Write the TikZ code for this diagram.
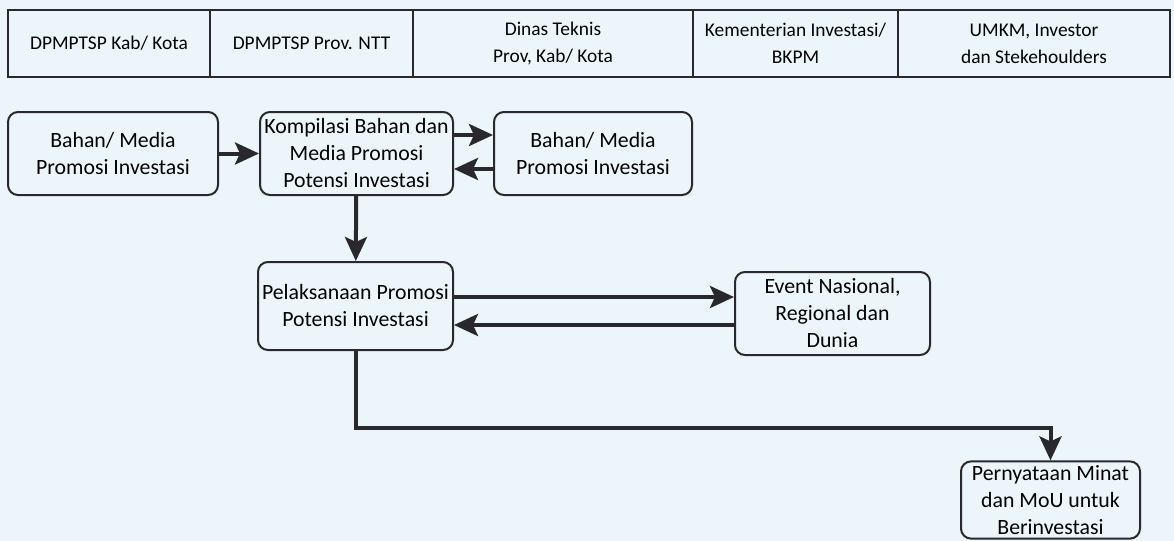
\documentclass[tikz,border=0pt]{standalone}
\usepackage{fontspec}
\setmainfont{Carlito}
\usepackage{xcolor}
\usetikzlibrary{arrows.meta, calc, positioning}
\definecolor{paperblue}{RGB}{236,246,250}
\definecolor{inkgray}{RGB}{40,40,45}

\begin{document}
\begin{tikzpicture}[x=0.5pt, y=-0.5pt, >=Stealth,
    font=\fontsize{10.9}{13.5}\selectfont,
    cell/.style={draw=inkgray, line width=1pt, rectangle, align=center, minimum height=33.5pt, inner sep=0pt, font=\fontsize{9.7}{13.5}\selectfont},
    stepbox/.style={draw=inkgray, line width=1pt, rounded corners=5pt, align=center, inner sep=2pt},
    flow/.style={draw=inkgray, line width=2pt, arrows={-Stealth[length=12pt, width=11pt, inset=2.5pt]}}]
        % Background
        \fill[paperblue] (0,0) rectangle (1174,541);
        \useasboundingbox (0,0) rectangle (1174,541);

        % Header
        \node[cell, minimum width=101pt] (h1) at (109,43.5) {DPMPTSP Kab/ Kota};
        \node[cell, minimum width=101.5pt] (h2) at (311.5,43.5) {DPMPTSP Prov. NTT};
        \node[cell, minimum width=140pt] (h3) at (553,43.5) {Dinas Teknis\\Prov, Kab/ Kota};
        \node[cell, minimum width=102.5pt] (h4) at (795.5,43.5) {Kementerian Investasi/\\BKPM};
        \node[cell, minimum width=136pt] (h5) at (1034,43.5) {UMKM, Investor\\dan Stekehoulders};

        % Steps
        \node[stepbox, minimum width=105pt, minimum height=41.5pt] (bahanA) at (113,153.5) {Bahan/ Media\\Promosi Investasi};
        \node[stepbox, minimum width=96.5pt, minimum height=41.5pt] (kompilasi) at (356.5,153.5) {Kompilasi Bahan dan\\Media Promosi\\Potensi Investasi};
        \node[stepbox, minimum width=99pt, minimum height=41.5pt] (bahanB) at (593,153.5) {Bahan/ Media\\Promosi Investasi};
        \node[stepbox, minimum width=97.5pt, minimum height=44pt] (pelaksanaan) at (355.5,306) {Pelaksanaan Promosi\\Potensi Investasi};
        \node[stepbox, minimum width=97.5pt, minimum height=41.5pt] (event) at (832.5,313.5) {Event Nasional,\\Regional dan\\Dunia};
        \node[stepbox, minimum width=89.5pt, minimum height=38pt] (minat) at (1050.5,500) {Pernyataan Minat\\dan MoU untuk\\Berinvestasi};

        % Connectors
        \draw[flow] (bahanA) -- (kompilasi);
        \draw[flow] (kompilasi.east |- 0,135) -- (bahanB.west |- 0,135);
        \draw[flow] (bahanB.west |- 0,169) -- (kompilasi.east |- 0,169);
        \draw[flow] (kompilasi) -- (pelaksanaan);
        \draw[flow] (pelaksanaan.east |- 0,297) -- (event.west |- 0,297);
        \draw[flow] (event.west |- 0,325) -- (pelaksanaan.east |- 0,325);
        \draw[flow] (pelaksanaan.south) -- (pelaksanaan.south |- 0,428) -| (minat.north);
    \end{tikzpicture}
\end{document}
